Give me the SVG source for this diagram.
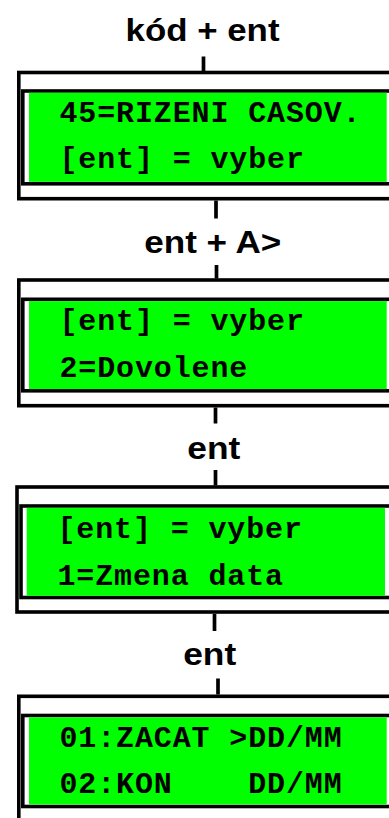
<svg xmlns="http://www.w3.org/2000/svg" width="389" height="818" viewBox="0 0 389 818">
<style>
.outer{fill:#fff;stroke:#000;stroke-width:3.6}
.inner{fill:#fff;stroke:#000;stroke-width:3.6}
.lcd{fill:#00ff00;stroke:none}
.mono{font-family:"Liberation Mono","Courier New",monospace;font-weight:bold;font-size:30px;letter-spacing:0.87px;fill:#000;white-space:pre}
.lbl{font-family:"Liberation Sans",Arial,sans-serif;font-weight:bold;font-size:31px;fill:#000;text-anchor:middle}
.con{stroke:#000;stroke-width:3.7;fill:none}
</style>
<rect width="389" height="818" fill="#fff"/>
<g id="connectors">
<line class="con" x1="203.5" y1="56.5" x2="203.5" y2="71"/>
<line class="con" x1="216" y1="200.5" x2="216" y2="218.5"/>
<line class="con" x1="216.5" y1="265" x2="216.5" y2="278.5"/>
<line class="con" x1="215.5" y1="407.5" x2="215.5" y2="423.5"/>
<line class="con" x1="215.5" y1="470" x2="215.5" y2="485.5"/>
<line class="con" x1="214.5" y1="614" x2="214.5" y2="631"/>
<line class="con" x1="218" y1="678.5" x2="218" y2="694.5"/>
</g>
<g id="labels">
<text class="lbl" x="202.5" y="41" textLength="154" lengthAdjust="spacingAndGlyphs">kód + ent</text>
<text class="lbl" x="212.8" y="253.3" textLength="137" lengthAdjust="spacingAndGlyphs">ent + A&gt;</text>
<text class="lbl" x="213.8" y="459.3" textLength="53" lengthAdjust="spacingAndGlyphs">ent</text>
<text class="lbl" x="209.7" y="665" textLength="53" lengthAdjust="spacingAndGlyphs">ent</text>
</g>
<g id="node1">
<rect class="outer" x="18.8" y="72.5" width="385" height="126.2"/>
<rect class="inner" x="22.8" y="91" width="380" height="92.8"/>
<rect class="lcd" x="29" y="92.7" width="357.7" height="89.2"/>
<text class="mono" x="59.5" y="121.7">45=RIZENI CASOV.</text>
<text class="mono" x="59.5" y="168">[ent] = vyber</text>
</g>
<g id="node2">
<rect class="outer" x="18.8" y="280" width="385" height="125.7"/>
<rect class="inner" x="22.8" y="299.3" width="380" height="91.5"/>
<rect class="lcd" x="29" y="301.1" width="357.7" height="88"/>
<text class="mono" x="59.5" y="330">[ent] = vyber</text>
<text class="mono" x="59.5" y="376.7">2=Dovolene</text>
</g>
<g id="node3">
<rect class="outer" x="17" y="487" width="385" height="125"/>
<rect class="inner" x="21" y="506" width="380" height="91.5"/>
<rect class="lcd" x="26.7" y="507.8" width="358.3" height="88"/>
<text class="mono" x="57.5" y="538.3">[ent] = vyber</text>
<text class="mono" x="57.5" y="585">1=Zmena data</text>
</g>
<g id="node4">
<rect class="outer" x="18.8" y="696.3" width="385" height="140"/>
<rect class="inner" x="22.8" y="715.5" width="380" height="91"/>
<rect class="lcd" x="29" y="717.3" width="357.7" height="87.2"/>
<text class="mono" x="59.5" y="746.7">01:ZACAT &gt;DD/MM</text>
<text class="mono" x="59.5" y="793.3" xml:space="preserve">02:KON    DD/MM</text>
</g>
</svg>
